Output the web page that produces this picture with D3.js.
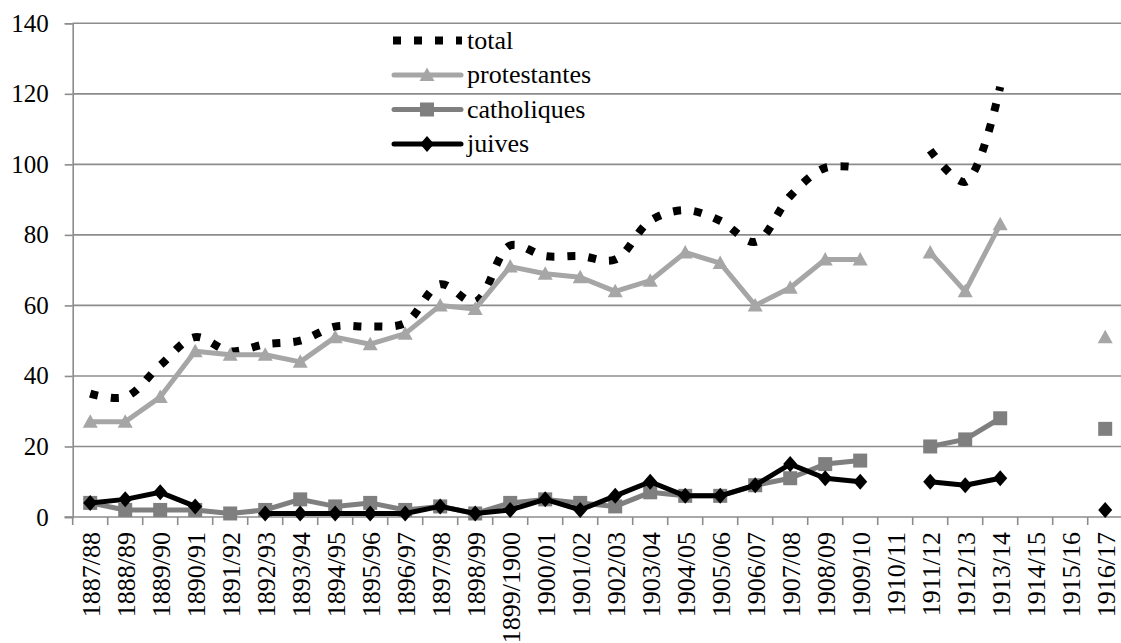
<!DOCTYPE html>
<html>
<head>
<meta charset="utf-8">
<script src="https://cdn.jsdelivr.net/npm/d3@7"></script>
<style>
  html, body { margin: 0; padding: 0; background: #fff; }
  svg { display: block; }
  svg text { font-family: 'Liberation Serif', 'Times New Roman', Tinos, 'DejaVu Serif', serif !important; }
</style>
</head>
<body>
<svg id="chart" width="1121" height="643"></svg>
<script>
const categories = ["1887/88","1888/89","1889/90","1890/91","1891/92","1892/93","1893/94","1894/95","1895/96","1896/97","1897/98","1898/99","1899/1900","1900/01","1901/02","1902/03","1903/04","1904/05","1905/06","1906/07","1907/08","1908/09","1909/10","1910/11","1911/12","1912/13","1913/14","1914/15","1915/16","1916/17"];
const total        = [35,34,43,51,47,49,50,54,54,55,66,61,77,74,74,73,84,87,84,78,91,99,99,null,104,95,122,null,null,null];
const protestantes = [27,27,34,47,46,46,44,51,49,52,60,59,71,69,68,64,67,75,72,60,65,73,73,null,75,64,83,null,null,51];
const catholiques  = [4,2,2,2,1,2,5,3,4,2,3,1,4,5,4,3,7,6,6,9,11,15,16,null,20,22,28,null,null,25];
const juives       = [4,5,7,3,null,1,1,1,1,1,3,1,2,5,2,6,10,6,6,9,15,11,10,null,10,9,11,null,null,2];
const yTicks = [0,20,40,60,80,100,120,140];
const seriesNames = ["total","protestantes","catholiques","juives"];

const FONT = "'Liberation Serif', 'Times New Roman', Tinos, 'DejaVu Serif', serif";
const svg = d3.select("#chart");
const left = 72.7, step = 35, right = left + step * categories.length;
const x = d3.scaleBand().domain(categories).range([left, right]).padding(0);
const y = d3.scaleLinear().domain([0, 140]).range([517, 23.3]);
const gridColor = "#8c8c8c";

// gridlines
svg.append("g").selectAll("line").data(yTicks.filter(d => d > 0)).join("line")
  .attr("x1", left).attr("x2", 1121)
  .attr("y1", d => y(d)).attr("y2", d => y(d))
  .attr("stroke", gridColor).attr("stroke-width", 1.6);

// y axis
const yAxis = svg.append("g").attr("transform", `translate(${left},0)`)
  .call(d3.axisLeft(y).tickValues(yTicks).tickSize(8).tickPadding(16).tickFormat(d3.format("d")));
yAxis.attr("font-family", FONT).attr("font-size", 25);
yAxis.select(".domain").attr("stroke", gridColor).attr("stroke-width", 1.6);
yAxis.selectAll(".tick line").attr("stroke", gridColor).attr("stroke-width", 1.6);
yAxis.selectAll(".tick text").attr("font-size", 25).attr("fill", "#000").attr("font-family", FONT);

// x axis line + boundary ticks
svg.append("line").attr("x1", left - 8).attr("x2", 1121).attr("y1", y(0)).attr("y2", y(0))
  .attr("stroke", gridColor).attr("stroke-width", 1.6);
const bounds = categories.map(c => x(c)).concat([right]);
svg.append("g").selectAll("line").data(bounds).join("line")
  .attr("x1", d => d).attr("x2", d => d).attr("y1", y(0)).attr("y2", y(0) + 8)
  .attr("stroke", gridColor).attr("stroke-width", 1.6);

// x labels
svg.append("g").selectAll("text").data(categories).join("text")
  .attr("transform", d => `translate(${x(d) + step / 2 + 1},532) rotate(-90)`)
  .attr("text-anchor", "end").attr("dy", "0.34em")
  .attr("font-family", FONT)
  .attr("font-size", 26).attr("fill", "#000").text(d => d);

const cx = i => x(categories[i]) + step / 2;

function drawLine(data, color, width, curve, dash) {
  const line = d3.line().defined(d => d != null).x((d, i) => cx(i)).y(d => y(d)).curve(curve);
  const p = svg.append("path").datum(data).attr("d", line)
    .attr("fill", "none").attr("stroke", color).attr("stroke-width", width)
    .attr("stroke-linejoin", "round");
  if (dash) p.attr("stroke-dasharray", dash).attr("stroke-linecap", "butt");
  else p.attr("stroke-linecap", "round");
}

const tri = "M0,-7.5L7.5,6L-7.5,6Z";
const sq = "M-7,-7L7,-7L7,7L-7,7Z";
const dia = "M0,-8L7,0L0,8L-7,0Z";

function drawMarkers(data, shape, color) {
  svg.append("g").selectAll("path").data(data.map((d, i) => [d, i]).filter(d => d[0] != null)).join("path")
    .attr("d", shape).attr("fill", color)
    .attr("transform", d => `translate(${cx(d[1])},${y(d[0])})`);
}

// series
drawLine(total, "#000", 8, d3.curveCatmullRom.alpha(0.5), "8,13");
drawLine(protestantes, "#a6a6a6", 5, d3.curveLinear);
drawMarkers(protestantes, tri, "#a6a6a6");
drawLine(catholiques, "#7f7f7f", 5, d3.curveLinear);
drawMarkers(catholiques, sq, "#7f7f7f");
drawLine(juives, "#000", 5, d3.curveLinear);
drawMarkers(juives, dia, "#000");

// legend
const legendStyles = [
  {color: "#000", width: 8, dash: "8,13", shape: null},
  {color: "#a6a6a6", width: 5, dash: null, shape: tri},
  {color: "#7f7f7f", width: 5, dash: null, shape: sq},
  {color: "#000", width: 5, dash: null, shape: dia}
];
const lg = svg.append("g");
seriesNames.forEach((name, i) => {
  const st = legendStyles[i];
  const ly = 40.5 + i * 34.5;
  const l = lg.append("line").attr("x1", st.dash ? 393 : 394).attr("x2", st.dash ? 462 : 461)
    .attr("y1", ly).attr("y2", ly).attr("stroke", st.color).attr("stroke-width", st.width);
  if (st.dash) l.attr("stroke-dasharray", st.dash);
  else l.attr("stroke-linecap", "round");
  if (st.shape) lg.append("path").attr("d", st.shape).attr("fill", st.color)
    .attr("transform", `translate(427,${ly})`);
  lg.append("text").attr("x", 467).attr("y", ly).attr("dy", "0.32em")
    .attr("font-family", FONT)
    .attr("font-size", 26).attr("fill", "#000").text(name);
});
</script>
</body>
</html>
